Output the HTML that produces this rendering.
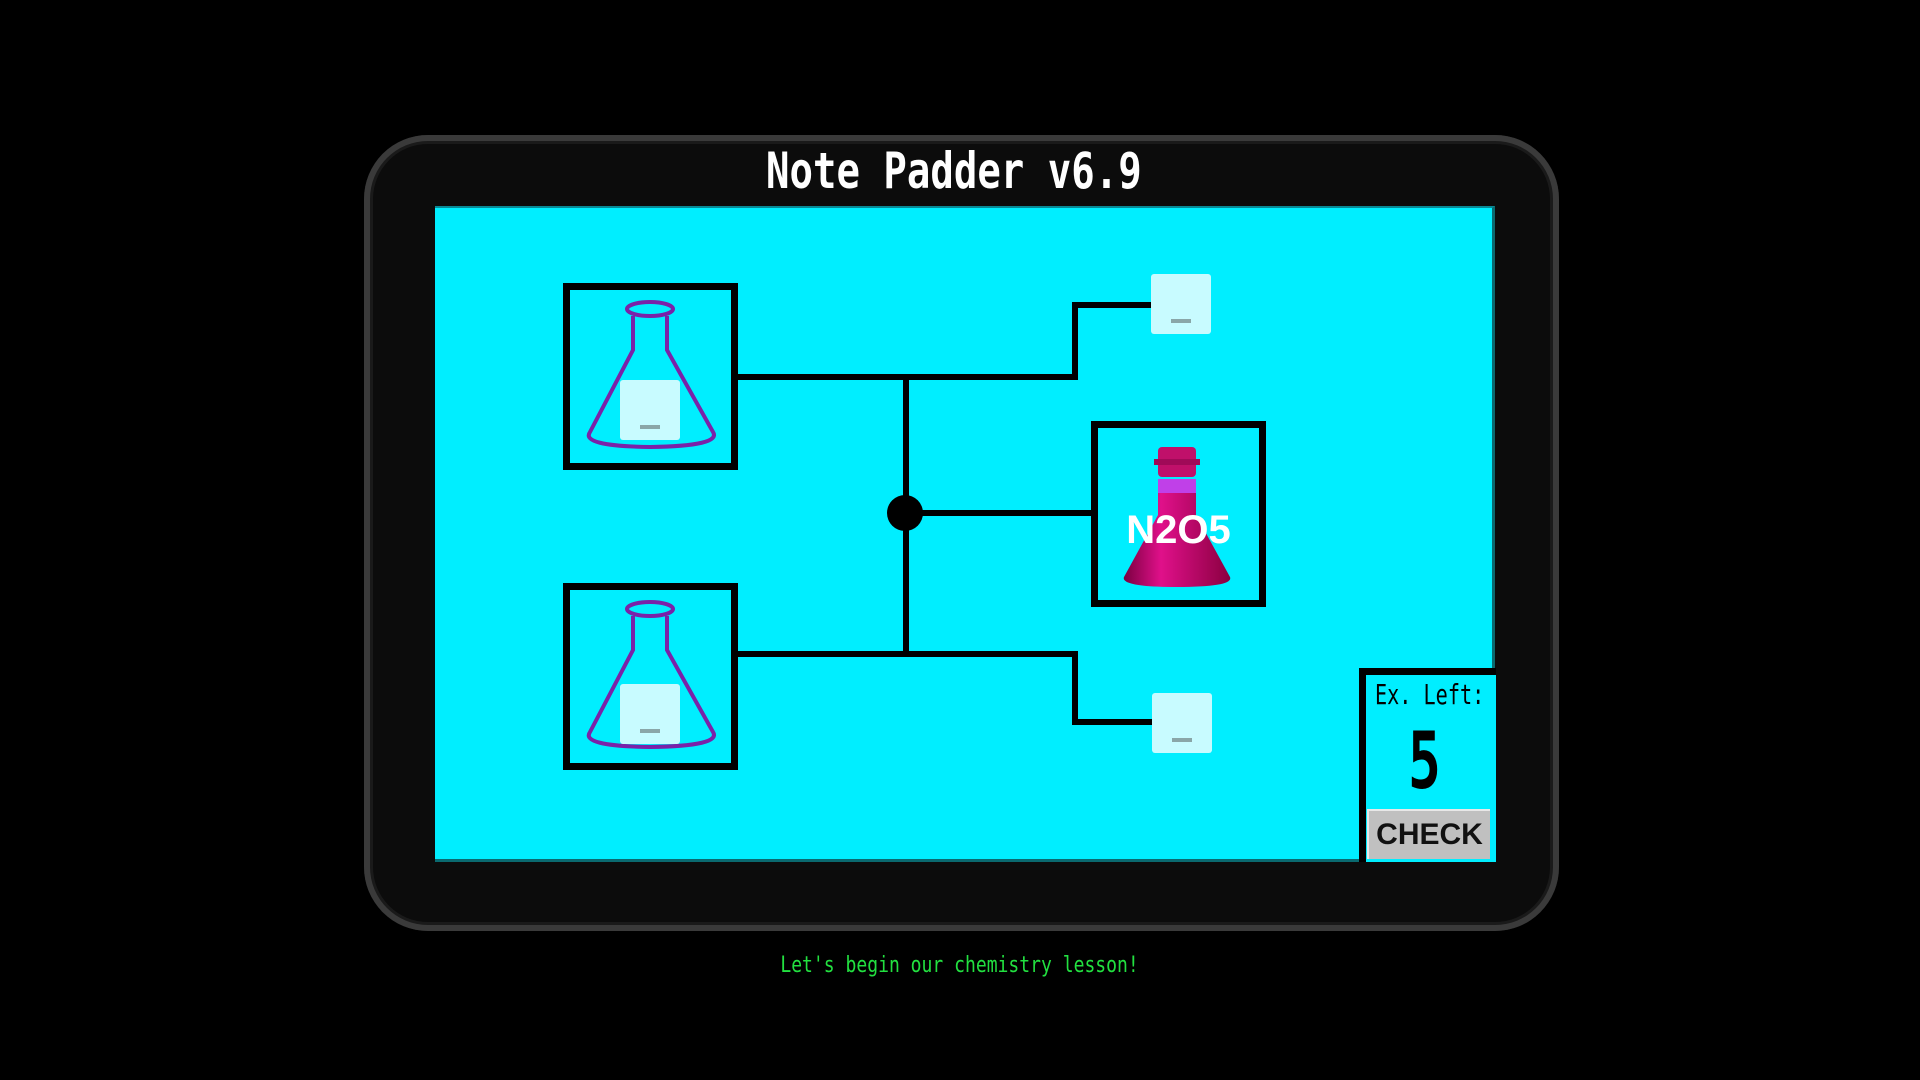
<!DOCTYPE html>
<html><head><meta charset="utf-8"><style>
html,body{margin:0;padding:0;background:#000;width:1920px;height:1080px;overflow:hidden;position:relative;font-family:"Liberation Sans",sans-serif}
.tab{position:absolute;left:364px;top:135px;width:1195px;height:796px;border-radius:64px;background:#0c0c0c;box-shadow:inset 0 0 0 6px #3a3a3a, inset 0 0 0 9px #1a1a1a}
.title{position:absolute;left:766px;top:146px;width:372px;height:50px;white-space:nowrap;color:#fff;font-family:"DejaVu Sans Mono","Liberation Mono",monospace;font-size:50px;line-height:50px;font-weight:bold}
.title span{display:inline-block;transform-origin:0 0;transform:scaleX(0.78)}
.screen{position:absolute;left:435px;top:206px;width:1060px;height:656px;background:#00eeff;border-top:2px solid #0a8a96;border-bottom:3px solid #0a6a70;border-right:3px solid #0a6a70;box-sizing:border-box}
.box{position:absolute;border:7px solid #000;box-sizing:border-box}
.sm{position:absolute;width:60px;height:60px;background:#c8fbff;border-radius:3px}
.sm::after{content:"";position:absolute;left:20px;top:45px;width:20px;height:4px;background:#8aa6a8}
.ln{position:absolute;background:#000}
.msg{position:absolute;left:0;width:1920px;top:953px;text-align:center;color:#22e040;font-family:"DejaVu Sans Mono",monospace;font-size:22px}
.msg span{display:inline-block;transform:scaleX(0.82)}
</style></head><body>
<div class="tab"></div>
<div class="title"><span>Note Padder v6.9</span></div>
<div class="screen"></div>

<div class="ln" style="left:737px;top:374px;width:341px;height:6px"></div>
<div class="ln" style="left:1072px;top:302px;width:6px;height:78px"></div>
<div class="ln" style="left:1072px;top:302px;width:80px;height:6px"></div>
<div class="ln" style="left:903px;top:374px;width:6px;height:283px"></div>
<div class="ln" style="left:737px;top:651px;width:341px;height:6px"></div>
<div class="ln" style="left:1072px;top:651px;width:6px;height:74px"></div>
<div class="ln" style="left:1072px;top:719px;width:80px;height:6px"></div>
<div class="ln" style="left:906px;top:510px;width:188px;height:6px"></div>
<div style="position:absolute;left:887px;top:495px;width:36px;height:36px;border-radius:50%;background:#000"></div>

<div class="box" style="left:563px;top:283px;width:175px;height:187px">
<svg width="161" height="173" viewBox="570 290 161 173" style="position:absolute;left:0;top:0">
<path d="M633 316 L633 350 L590 432 Q580 446 650 447 Q722 446 713 432 L667 350 L667 316" fill="none" stroke="#7a22a8" stroke-width="4"/>
<ellipse cx="650" cy="309" rx="23" ry="7" fill="none" stroke="#7a22a8" stroke-width="4"/>
</svg>
</div>
<div class="sm" style="left:620px;top:380px"></div>
<div class="box" style="left:563px;top:583px;width:175px;height:187px">
<svg width="161" height="173" viewBox="570 290 161 173" style="position:absolute;left:0;top:0">
<path d="M633 316 L633 350 L590 432 Q580 446 650 447 Q722 446 713 432 L667 350 L667 316" fill="none" stroke="#7a22a8" stroke-width="4"/>
<ellipse cx="650" cy="309" rx="23" ry="7" fill="none" stroke="#7a22a8" stroke-width="4"/>
</svg>
</div>
<div class="sm" style="left:620px;top:684px"></div>

<div class="sm" style="left:1151px;top:274px"></div>
<div class="sm" style="left:1152px;top:693px"></div>

<div class="box" style="left:1091px;top:421px;width:175px;height:186px"></div>
<svg width="120" height="150" style="position:absolute;left:1118px;top:445px">
<defs><linearGradient id="g" x1="0" x2="1"><stop offset="0" stop-color="#7a0040"/><stop offset="0.35" stop-color="#e0108a"/><stop offset="1" stop-color="#8a0040"/></linearGradient></defs>
<rect x="40" y="2" width="38" height="30" rx="4" fill="#c0106a"/>
<rect x="36" y="14" width="46" height="6" fill="#a00a58"/>
<rect x="40" y="34" width="38" height="14" fill="#c040e8"/>
<path d="M40 48 L78 48 L78 70 L112 132 Q116 142 59 142 Q2 142 6 132 L40 70 Z" fill="url(#g)"/>
</svg>
<div style="position:absolute;left:1091px;top:505px;width:175px;text-align:center;color:#fff;font-weight:bold;font-size:40px;line-height:50px">N2O5</div>

<div style="position:absolute;left:1359px;top:668px;width:137px;height:194px;border:7px solid #000;border-right:none;border-bottom:none;box-sizing:border-box;background:#00eeff"></div>
<div style="position:absolute;left:1375px;top:678px;white-space:nowrap;font-family:'DejaVu Sans Mono',monospace;font-size:28px;color:#000"><span style="display:inline-block;transform-origin:0 0;transform:scaleX(0.72)">Ex. Left:</span></div>
<div style="position:absolute;left:1359px;top:722px;width:130px;text-align:center;font-family:'DejaVu Sans Mono',monospace;font-size:78px;line-height:80px;color:#000;font-weight:bold"><span style="display:inline-block;transform:scaleX(0.7)">5</span></div>
<div style="position:absolute;left:1367px;top:809px;width:123px;height:50px;background:#c0c0c0;border-top:2px solid #e8e8e8;border-left:2px solid #e8e8e8;box-sizing:border-box;text-align:center;font-weight:bold;font-size:30px;line-height:48px;color:#111">CHECK</div>

<div class="msg"><span>Let's begin our chemistry lesson!</span></div>
</body></html>
